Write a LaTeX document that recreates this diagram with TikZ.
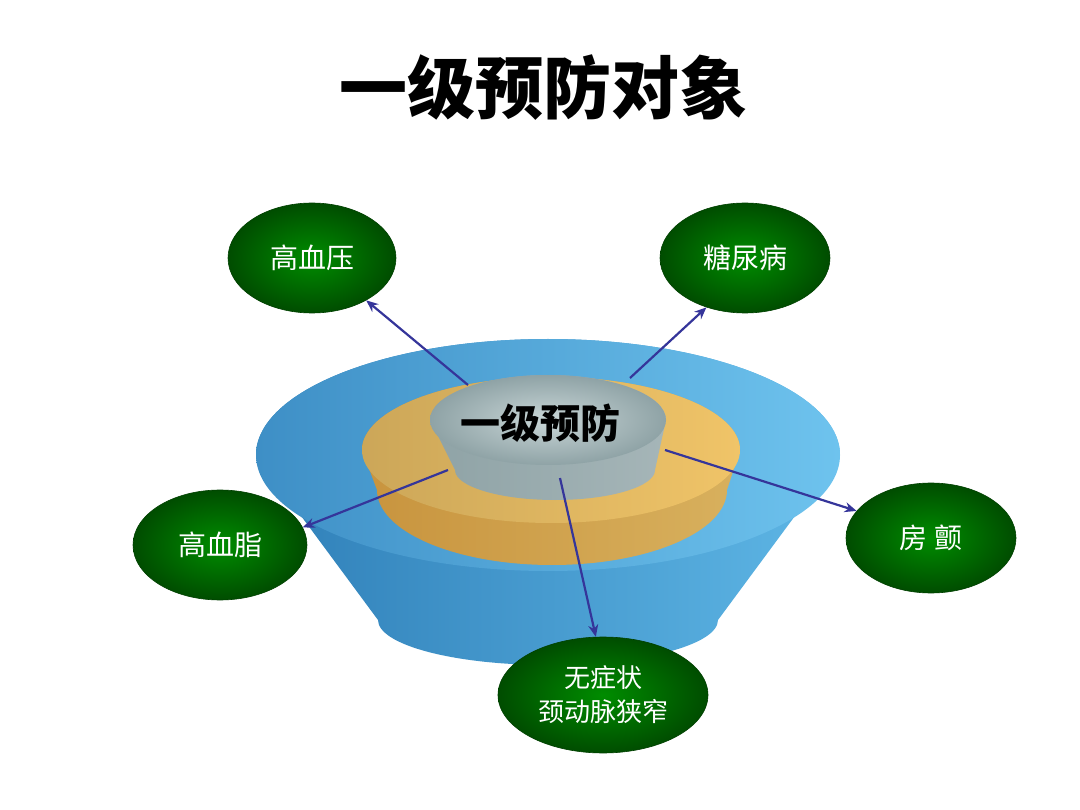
\documentclass[tikz,border=0pt]{standalone}
\usepackage{fontspec}
\setmainfont{Noto Sans CJK SC}
\usetikzlibrary{shapes.geometric,arrows.meta}
\definecolor{arr}{HTML}{35359A}
\definecolor{bside1}{HTML}{2F7FB8}
\definecolor{bside2}{HTML}{5FB7E6}
\definecolor{btop1}{HTML}{3E8FC6}
\definecolor{btop2}{HTML}{6EC3EE}
\definecolor{or1}{HTML}{C8943E}
\definecolor{or2}{HTML}{F0C468}
\definecolor{gr1}{HTML}{8FA3A6}
\definecolor{gr2}{HTML}{C9D6D7}
\begin{document}
\begin{tikzpicture}[x=1pt,y=-1pt,
  bubble/.style={ellipse,inner sep=0pt,draw=green!25!black,line width=0.6pt,inner color=green!55!black,outer color=green!30!black,text=white,font=\fontsize{28}{32}\selectfont},
  link/.style={arr,line width=2.2pt,-{Stealth[length=12pt,width=10pt]}}]
\useasboundingbox (0,0) rectangle (1080,810);
\fill[white] (0,0) rectangle (1080,810);
\node[font=\bfseries\fontsize{68}{74}\selectfont] (title) at (543,88) {一级预防对象};
% outer blue frustum
\path[left color=bside1, right color=bside2]
  (256,455) -- (378,620) arc[start angle=180,end angle=0,x radius=170,y radius=45] -- (840,455) arc[start angle=0,end angle=-180,x radius=292,y radius=116];
\path[left color=btop1,right color=btop2] (548,455) ellipse[x radius=292,y radius=116];
% orange disc
\path[left color=or1,right color=or2!90!black] (362,450) -- (377,490) arc[start angle=180,end angle=0,x radius=175,y radius=75] -- (740,450) arc[start angle=0,end angle=-180,x radius=189,y radius=73];
\path[left color=or2!85!black,right color=or2] (551,450) ellipse[x radius=189,y radius=73];
% gray frustum
\path[left color=gr1,right color=gr1!80!white] (430,420) -- (455,470) arc[start angle=180,end angle=0,x radius=100,y radius=30] -- (666,420) arc[start angle=0,end angle=-180,x radius=118,y radius=45];
\path[inner color=gr2,outer color=gr1] (548,420) ellipse[x radius=118,y radius=45];
\node[font=\bfseries\fontsize{40}{44}\selectfont] (core) at (540,423) {一级预防};
% bubbles
\node[bubble,minimum width=168pt,minimum height=110pt] (b1) at (312,258) {高血压};
\node[bubble,minimum width=170pt,minimum height=110pt] (b2) at (745,258) {糖尿病};
\node[bubble,minimum width=174pt,minimum height=110pt] (b3) at (220,545) {高血脂};
\node[bubble,minimum width=170pt,minimum height=110pt] (b4) at (931,538) {房\ 颤};
\node[bubble,minimum width=210pt,minimum height=116pt,align=center,font=\fontsize{26}{34}\selectfont] (b5) at (603,695) {无症状\\颈动脉狭窄};
\coordinate (s1) at (468,385); \coordinate (s2) at (630,378);
\coordinate (s3) at (448,470); \coordinate (s4) at (665,450); \coordinate (s5) at (560,478);
\draw[link] (s1) -- (b1.-38);
\draw[link] (s2) -- (b2.-128);
\draw[link] (s3) -- (b3.12);
\draw[link] (s4) -- (b4.160);
\draw[link] (s5) -- (b5.97);
\end{tikzpicture}
\end{document}
